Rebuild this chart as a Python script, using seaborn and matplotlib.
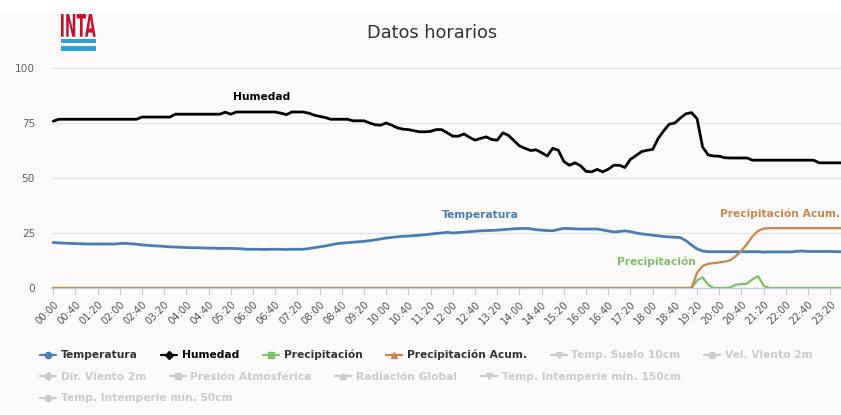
import numpy as np
import pandas as pd
import matplotlib
matplotlib.use("Agg")
import matplotlib.pyplot as plt
import seaborn as sns
from matplotlib.lines import Line2D
from matplotlib.textpath import TextPath
from matplotlib.patches import PathPatch, Rectangle
from matplotlib.font_manager import FontProperties
from matplotlib.transforms import Affine2D

# ---------------- data (10-minute records, 00:00 .. 23:40) ----------------
horas = pd.date_range("2000-01-01 00:00", periods=143, freq="10min")
minutos = (horas.hour * 60 + horas.minute).to_numpy()

humedad = [
    75.8, 76.7, 76.7, 76.7, 76.7, 76.7, 76.7, 76.7, 76.7, 76.7, 76.7, 76.7,
    76.7, 76.7, 76.7, 76.7, 77.7, 77.7, 77.7, 77.7, 77.7, 77.7, 79.0, 79.0,
    79.0, 79.0, 79.0, 79.0, 79.0, 79.0, 79.0, 79.9, 79.0, 80.0, 80.0, 80.0,
    80.0, 80.0, 80.0, 80.0, 80.0, 79.5, 78.8, 80.0, 80.0, 80.0, 79.5, 78.6,
    78.0, 77.5, 76.7, 76.7, 76.7, 76.7, 76.0, 76.0, 76.0, 75.0, 74.2, 74.0,
    75.0, 74.0, 72.8, 72.2, 72.0, 71.5, 71.0, 71.0, 71.2, 72.0, 72.0, 70.5,
    69.0, 69.0, 70.0, 68.5, 67.2, 68.0, 68.7, 67.5, 67.2, 70.5, 69.4, 67.0,
    64.6, 63.5, 62.5, 62.8, 61.5, 60.0, 63.5, 62.6, 57.5, 55.8, 56.9, 55.6,
    53.0, 52.8, 53.9, 52.8, 54.0, 55.8, 55.8, 54.8, 58.5, 60.2, 62.0, 62.6,
    63.0, 68.0, 71.5, 74.5, 75.0, 77.3, 79.2, 79.7, 77.0, 64.0, 60.5, 60.0,
    59.9, 59.2, 59.1, 59.1, 59.1, 59.1, 58.1, 58.1, 58.1, 58.1, 58.1, 58.1,
    58.1, 58.1, 58.1, 58.1, 58.1, 58.1, 56.9, 56.9, 56.9, 56.9, 56.9,
]

temperatura = [
    20.7, 20.5, 20.4, 20.3, 20.2, 20.1, 20.0, 20.0, 20.0, 20.0, 20.0, 20.0,
    20.2, 20.3, 20.1, 19.9, 19.6, 19.4, 19.2, 19.1, 18.9, 18.7, 18.6, 18.5,
    18.4, 18.3, 18.3, 18.2, 18.1, 18.1, 18.0, 18.0, 18.0, 17.9, 17.8, 17.6,
    17.6, 17.6, 17.5, 17.6, 17.6, 17.6, 17.5, 17.6, 17.6, 17.6, 17.9, 18.3,
    18.7, 19.1, 19.6, 20.1, 20.4, 20.6, 20.8, 21.0, 21.2, 21.5, 21.9, 22.3,
    22.7, 23.0, 23.3, 23.5, 23.6, 23.8, 24.0, 24.2, 24.5, 24.8, 25.0, 25.3,
    25.0, 25.2, 25.4, 25.6, 25.8, 26.0, 26.1, 26.2, 26.3, 26.5, 26.7, 26.9,
    27.0, 27.1, 26.9, 26.5, 26.3, 26.1, 26.0, 26.6, 27.1, 27.0, 26.9, 26.8,
    26.8, 26.8, 26.8, 26.4, 25.9, 25.5, 25.7, 26.0, 25.6, 25.0, 24.6, 24.3,
    24.0, 23.7, 23.4, 23.2, 23.1, 22.9, 21.5, 19.5, 17.8, 16.8, 16.5, 16.5,
    16.5, 16.5, 16.5, 16.5, 16.5, 16.5, 16.5, 16.5, 16.3, 16.4, 16.4, 16.4,
    16.4, 16.4, 16.7, 16.8, 16.6, 16.6, 16.6, 16.6, 16.6, 16.5, 16.5,
]

precipitacion = [
    0, 0, 0, 0, 0, 0, 0, 0, 0, 0, 0, 0,
    0, 0, 0, 0, 0, 0, 0, 0, 0, 0, 0, 0,
    0, 0, 0, 0, 0, 0, 0, 0, 0, 0, 0, 0,
    0, 0, 0, 0, 0, 0, 0, 0, 0, 0, 0, 0,
    0, 0, 0, 0, 0, 0, 0, 0, 0, 0, 0, 0,
    0, 0, 0, 0, 0, 0, 0, 0, 0, 0, 0, 0,
    0, 0, 0, 0, 0, 0, 0, 0, 0, 0, 0, 0,
    0, 0, 0, 0, 0, 0, 0, 0, 0, 0, 0, 0,
    0, 0, 0, 0, 0, 0, 0, 0, 0, 0, 0, 0,
    0, 0, 0, 0, 0, 0, 0, 0, 3.5, 4.8, 1.5, 0,
    0, 0, 0.3, 1.5, 1.8, 2.0, 4.0, 5.4, 1.0, 0, 0, 0,
    0, 0, 0, 0, 0, 0, 0, 0, 0, 0, 0,
]

precipitacion_acum = [
    0, 0, 0, 0, 0, 0, 0, 0, 0, 0, 0, 0,
    0, 0, 0, 0, 0, 0, 0, 0, 0, 0, 0, 0,
    0, 0, 0, 0, 0, 0, 0, 0, 0, 0, 0, 0,
    0, 0, 0, 0, 0, 0, 0, 0, 0, 0, 0, 0,
    0, 0, 0, 0, 0, 0, 0, 0, 0, 0, 0, 0,
    0, 0, 0, 0, 0, 0, 0, 0, 0, 0, 0, 0,
    0, 0, 0, 0, 0, 0, 0, 0, 0, 0, 0, 0,
    0, 0, 0, 0, 0, 0, 0, 0, 0, 0, 0, 0,
    0, 0, 0, 0, 0, 0, 0, 0, 0, 0, 0, 0,
    0, 0, 0, 0, 0, 0, 0, 0, 7.0, 10.0, 11.0, 11.3,
    11.6, 12.0, 12.6, 14.5, 17.0, 20.0, 23.5, 26.0, 27.0, 27.2, 27.2, 27.2,
    27.2, 27.2, 27.2, 27.2, 27.2, 27.2, 27.2, 27.2, 27.2, 27.2, 27.2,
]

tick_minutos = list(range(0, 1420, 40))
tick_labels = ["00:00", "00:40", "01:20", "02:00", "02:40", "03:20", "04:00",
               "04:40", "05:20", "06:00", "06:40", "07:20", "08:00", "08:40",
               "09:20", "10:00", "10:40", "11:20", "12:00", "12:40", "13:20",
               "14:00", "14:40", "15:20", "16:00", "16:40", "17:20", "18:00",
               "18:40", "19:20", "20:00", "20:40", "21:20", "22:00", "22:40",
               "23:20"]

series_visibles = ["Temperatura", "Humedad", "Precipitación", "Precipitación Acum."]
series_ocultas = ["Temp. Suelo 10cm", "Vel. Viento 2m", "Dir. Viento 2m",
                  "Presión Atmosférica", "Radiación Global",
                  "Temp. Intemperie mín. 150cm", "Temp. Intemperie mín. 50cm"]

# ---------------- styling ----------------
W, H = 841, 415
C_TEMP = "#4a7db3"
C_HUM = "#000000"
C_PREC = "#7cc266"
C_ACUM = "#c8884a"
C_HIDDEN = "#cccccc"
BG = "#fcfafa"

sns.set_theme(style="white")
plt.rcParams["font.family"] = ["DejaVu Sans"]

fig = plt.figure(figsize=(W / 100, H / 100), dpi=100, facecolor=BG)
fig.patches.append(Rectangle((0, 1 - 13 / H), 1, 13 / H, transform=fig.transFigure,
                             facecolor="white", edgecolor="none", zorder=0))

ax = fig.add_axes([51 / W, (H - 288) / H, (W - 51) / W, 220 / H])
ax.set_facecolor("none")

df = pd.DataFrame({
    "minuto": minutos,
    "Temperatura": temperatura,
    "Humedad": humedad,
    "Precipitación": precipitacion,
    "Precipitación Acum.": precipitacion_acum,
})

sns.lineplot(data=df, x="minuto", y="Temperatura", ax=ax, color=C_TEMP, lw=2.0, zorder=3)
sns.lineplot(data=df, x="minuto", y="Humedad", ax=ax, color=C_HUM, lw=2.0, zorder=4)
sns.lineplot(data=df, x="minuto", y="Precipitación", ax=ax, color=C_PREC, lw=1.6, zorder=5)
sns.lineplot(data=df, x="minuto", y="Precipitación Acum.", ax=ax, color=C_ACUM, lw=1.6, zorder=6)

ax.set_xlim(-4, 1419.3)
ax.set_ylim(0, 100)
ax.set_xlabel("")
ax.set_ylabel("")
ax.set_yticks([0, 25, 50, 75, 100])
ax.set_xticks(tick_minutos)
ax.set_xticklabels(tick_labels)
ax.grid(axis="y", color="#e6e6e6", lw=1)
ax.grid(axis="x", visible=False)
for s in ["top", "left", "right"]:
    ax.spines[s].set_visible(False)
ax.spines["bottom"].set_color("#c0d0e0")
ax.spines["bottom"].set_linewidth(1)
ax.tick_params(axis="x", bottom=True, length=5, width=0.8, color="#c0d0e0",
               direction="out", pad=3, labelsize=7.2, labelcolor="#555555")
ax.tick_params(axis="y", left=False, length=0, pad=11.5, labelsize=7.6,
               labelcolor="#606060")
for lbl in ax.get_xticklabels():
    lbl.set_rotation(45)
    lbl.set_ha("right")
    lbl.set_va("top")
    lbl.set_rotation_mode("anchor")

# series labels
lab_kw = dict(fontsize=7.7, fontweight="bold", va="center", clip_on=False)
ax.text(375.5, 86.7, "Humedad", color=C_HUM, ha="center", **lab_kw)
ax.text(769.7, 33.3, "Temperatura", color=C_TEMP, ha="center", **lab_kw)
ax.text(1087, 11.8, "Precipitación", color=C_PREC, ha="center", **lab_kw)
ax.text(1417.5, 33.8, "Precipitación Acum.", color=C_ACUM, ha="right", **lab_kw)

# title
fig.text(432 / W, 1 - 33 / H, "Datos horarios", ha="center", va="center",
         fontsize=12.8, color="#333333")

# INTA logo
lax = fig.add_axes([61 / W, 1 - 50.7 / H, 34.7 / W, 36.7 / H])
lax.set_axis_off()
lax.set_xlim(0, 1)
lax.set_ylim(0, 1)
tp = TextPath((0, 0), "INTA", size=1, prop=FontProperties(family="DejaVu Sans", weight="bold"))
bb = tp.get_extents()
tr = Affine2D().translate(-bb.x0, -bb.y0).scale(1 / bb.width, 0.62 / bb.height).translate(0, 0.38)
lax.add_patch(PathPatch(tr.transform_path(tp), facecolor="#c8102e", edgecolor="none"))
lax.add_patch(Rectangle((0, 0.20), 1, 0.11, facecolor="#2f9fd8", edgecolor="none"))
lax.add_patch(Rectangle((0, 0.0), 1, 0.128, facecolor="#2f9fd8", edgecolor="none"))

# legend (three rows, like the Highcharts flowing legend)
colores_vis = [C_TEMP, C_HUM, C_PREC, C_ACUM]
marcadores = ["o", "D", "s", "^", "v", "o", "D", "s", "^", "v", "o"]
nombres = series_visibles + series_ocultas
colores = colores_vis + [C_HIDDEN] * len(series_ocultas)
handles = [Line2D([], [], color=c, marker=m, markersize=4.5, lw=1.6)
           for c, m in zip(colores, marcadores)]
filas = [(0, 6, 355), (6, 10, 376.5), (10, 11, 398)]
lprop = FontProperties(family="DejaVu Sans", weight="bold", size=7.7)
for a, b, yc in filas:
    leg = fig.legend(handles[a:b], nombres[a:b], loc="center left",
                     bbox_to_anchor=(40 / W, 1 - yc / H), ncol=b - a, frameon=False,
                     borderpad=0, borderaxespad=0, handlelength=1.5,
                     handletextpad=0.45, columnspacing=2.2, prop=lprop)
    for t, c in zip(leg.get_texts(), colores[a:b]):
        t.set_color("#333333" if c != C_HIDDEN else C_HIDDEN)
        if c == C_HUM:
            t.set_color("#000000")

fig.savefig("out.png", dpi=100, facecolor=fig.get_facecolor())
